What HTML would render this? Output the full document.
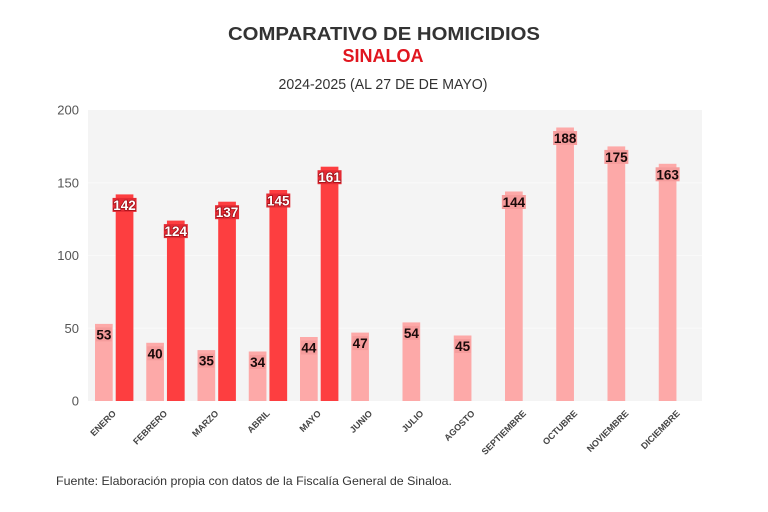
<!DOCTYPE html>
<html>
<head>
<meta charset="utf-8">
<style>
html,body{margin:0;padding:0;background:#fff;}
svg{display:block;font-family:"Liberation Sans",sans-serif;}
</style>
</head>
<body>
<svg width="768" height="512" viewBox="0 0 768 512" xmlns="http://www.w3.org/2000/svg">
<rect x="0" y="0" width="768" height="512" fill="#ffffff"/>
<!-- Titles -->
<text x="384" y="40" text-anchor="middle" font-size="18" font-weight="bold" fill="#333333" textLength="312" lengthAdjust="spacingAndGlyphs">COMPARATIVO DE HOMICIDIOS</text>
<text x="383" y="62" text-anchor="middle" font-size="18" font-weight="bold" fill="#e0161f" textLength="81" lengthAdjust="spacingAndGlyphs">SINALOA</text>
<text x="383" y="89" text-anchor="middle" font-size="14.5" fill="#333333" textLength="209" lengthAdjust="spacingAndGlyphs">2024-2025 (AL 27 DE DE MAYO)</text>

<!-- Plot area -->
<rect x="88" y="110" width="614" height="291" fill="#f4f4f4"/>
<g stroke="#f9f9f9" stroke-width="1">
<line x1="88" y1="182.75" x2="702" y2="182.75"/>
<line x1="88" y1="255.5" x2="702" y2="255.5"/>
<line x1="88" y1="328.25" x2="702" y2="328.25"/>
</g>

<!-- Y labels -->
<g font-size="13" fill="#555555" text-anchor="end">
<text x="79" y="114.5">200</text>
<text x="79" y="187.25">150</text>
<text x="79" y="260">100</text>
<text x="79" y="332.75">50</text>
<text x="79" y="405.5">0</text>
</g>

<!-- Light bars (2024) -->
<g fill="#fda9a8">
<rect x="95" y="323.9" width="17.7" height="77.1"/>
<rect x="146.25" y="342.8" width="17.7" height="58.2"/>
<rect x="197.5" y="350.1" width="17.7" height="50.9"/>
<rect x="248.75" y="351.5" width="17.7" height="49.5"/>
<rect x="300" y="337" width="17.7" height="64"/>
<rect x="351.25" y="332.6" width="17.7" height="68.4"/>
<rect x="402.5" y="322.4" width="17.7" height="78.6"/>
<rect x="453.75" y="335.5" width="17.7" height="65.5"/>
<rect x="505" y="191.5" width="17.7" height="209.5"/>
<rect x="556.25" y="127.5" width="17.7" height="273.5"/>
<rect x="607.5" y="146.4" width="17.7" height="254.6"/>
<rect x="658.75" y="163.8" width="17.7" height="237.2"/>
</g>
<!-- Dark bars (2025) -->
<g fill="#fd3e40">
<rect x="115.7" y="194.4" width="17.7" height="206.6"/>
<rect x="166.95" y="220.6" width="17.7" height="180.4"/>
<rect x="218.2" y="201.7" width="17.7" height="199.3"/>
<rect x="269.45" y="190" width="17.7" height="211"/>
<rect x="320.7" y="166.7" width="17.7" height="234.3"/>
</g>

<!-- Light labels -->
<g font-size="13.5" font-weight="bold" fill="#1a0a0a" text-anchor="middle">
<rect x="96" y="327.4" width="15.7" height="14" fill="#f59c9c"/>
<text x="103.85" y="339.4">53</text>
<rect x="147.25" y="346.3" width="15.7" height="14" fill="#f59c9c"/>
<text x="155.1" y="358.3">40</text>
<rect x="198.5" y="353.6" width="15.7" height="14" fill="#f59c9c"/>
<text x="206.35" y="365.6">35</text>
<rect x="249.75" y="355" width="15.7" height="14" fill="#f59c9c"/>
<text x="257.6" y="367">34</text>
<rect x="301" y="340.5" width="15.7" height="14" fill="#f59c9c"/>
<text x="308.85" y="352.5">44</text>
<rect x="352.25" y="336.1" width="15.7" height="14" fill="#f59c9c"/>
<text x="360.1" y="348.1">47</text>
<rect x="403.5" y="325.9" width="15.7" height="14" fill="#f59c9c"/>
<text x="411.35" y="337.9">54</text>
<rect x="454.75" y="339" width="15.7" height="14" fill="#f59c9c"/>
<text x="462.6" y="351">45</text>
<rect x="501.85" y="195" width="24" height="14" fill="#f59c9c"/>
<text x="513.85" y="207">144</text>
<rect x="553.1" y="131" width="24" height="14" fill="#f59c9c"/>
<text x="565.1" y="143">188</text>
<rect x="604.35" y="149.9" width="24" height="14" fill="#f59c9c"/>
<text x="616.35" y="161.9">175</text>
<rect x="655.6" y="167.3" width="24" height="14" fill="#f59c9c"/>
<text x="667.6" y="179.3">163</text>
</g>

<!-- Dark labels -->
<g font-size="13.5" font-weight="bold" text-anchor="middle">
<rect x="112.55" y="197.9" width="24" height="14" fill="#e42a33"/>
<text x="124.55" y="209.9" fill="#ffffff" stroke="#9c1018" stroke-width="1.6" paint-order="stroke">142</text>
<rect x="163.8" y="224.1" width="24" height="14" fill="#e42a33"/>
<text x="175.8" y="236.1" fill="#ffffff" stroke="#9c1018" stroke-width="1.6" paint-order="stroke">124</text>
<rect x="215.05" y="205.2" width="24" height="14" fill="#e42a33"/>
<text x="227.05" y="217.2" fill="#ffffff" stroke="#9c1018" stroke-width="1.6" paint-order="stroke">137</text>
<rect x="266.3" y="193.5" width="24" height="14" fill="#e42a33"/>
<text x="278.3" y="205.5" fill="#ffffff" stroke="#9c1018" stroke-width="1.6" paint-order="stroke">145</text>
<rect x="317.55" y="170.2" width="24" height="14" fill="#e42a33"/>
<text x="329.55" y="182.2" fill="#ffffff" stroke="#9c1018" stroke-width="1.6" paint-order="stroke">161</text>
</g>

<!-- X labels -->
<g font-size="9" font-weight="bold" fill="#444444" text-anchor="end">
<text transform="translate(116.6,414) rotate(-45)">ENERO</text>
<text transform="translate(167.85,414) rotate(-45)">FEBRERO</text>
<text transform="translate(219.1,414) rotate(-45)">MARZO</text>
<text transform="translate(270.35,414) rotate(-45)">ABRIL</text>
<text transform="translate(321.6,414) rotate(-45)">MAYO</text>
<text transform="translate(372.85,414) rotate(-45)">JUNIO</text>
<text transform="translate(424.1,414) rotate(-45)">JULIO</text>
<text transform="translate(475.35,414) rotate(-45)">AGOSTO</text>
<text transform="translate(526.6,414) rotate(-45)">SEPTIEMBRE</text>
<text transform="translate(577.85,414) rotate(-45)">OCTUBRE</text>
<text transform="translate(629.1,414) rotate(-45)">NOVIEMBRE</text>
<text transform="translate(680.35,414) rotate(-45)">DICIEMBRE</text>
</g>

<!-- Footer -->
<text x="56" y="485" font-size="12" fill="#333333" textLength="396" lengthAdjust="spacingAndGlyphs">Fuente: Elaboración propia con datos de la Fiscalía General de Sinaloa.</text>
</svg>
</body>
</html>
